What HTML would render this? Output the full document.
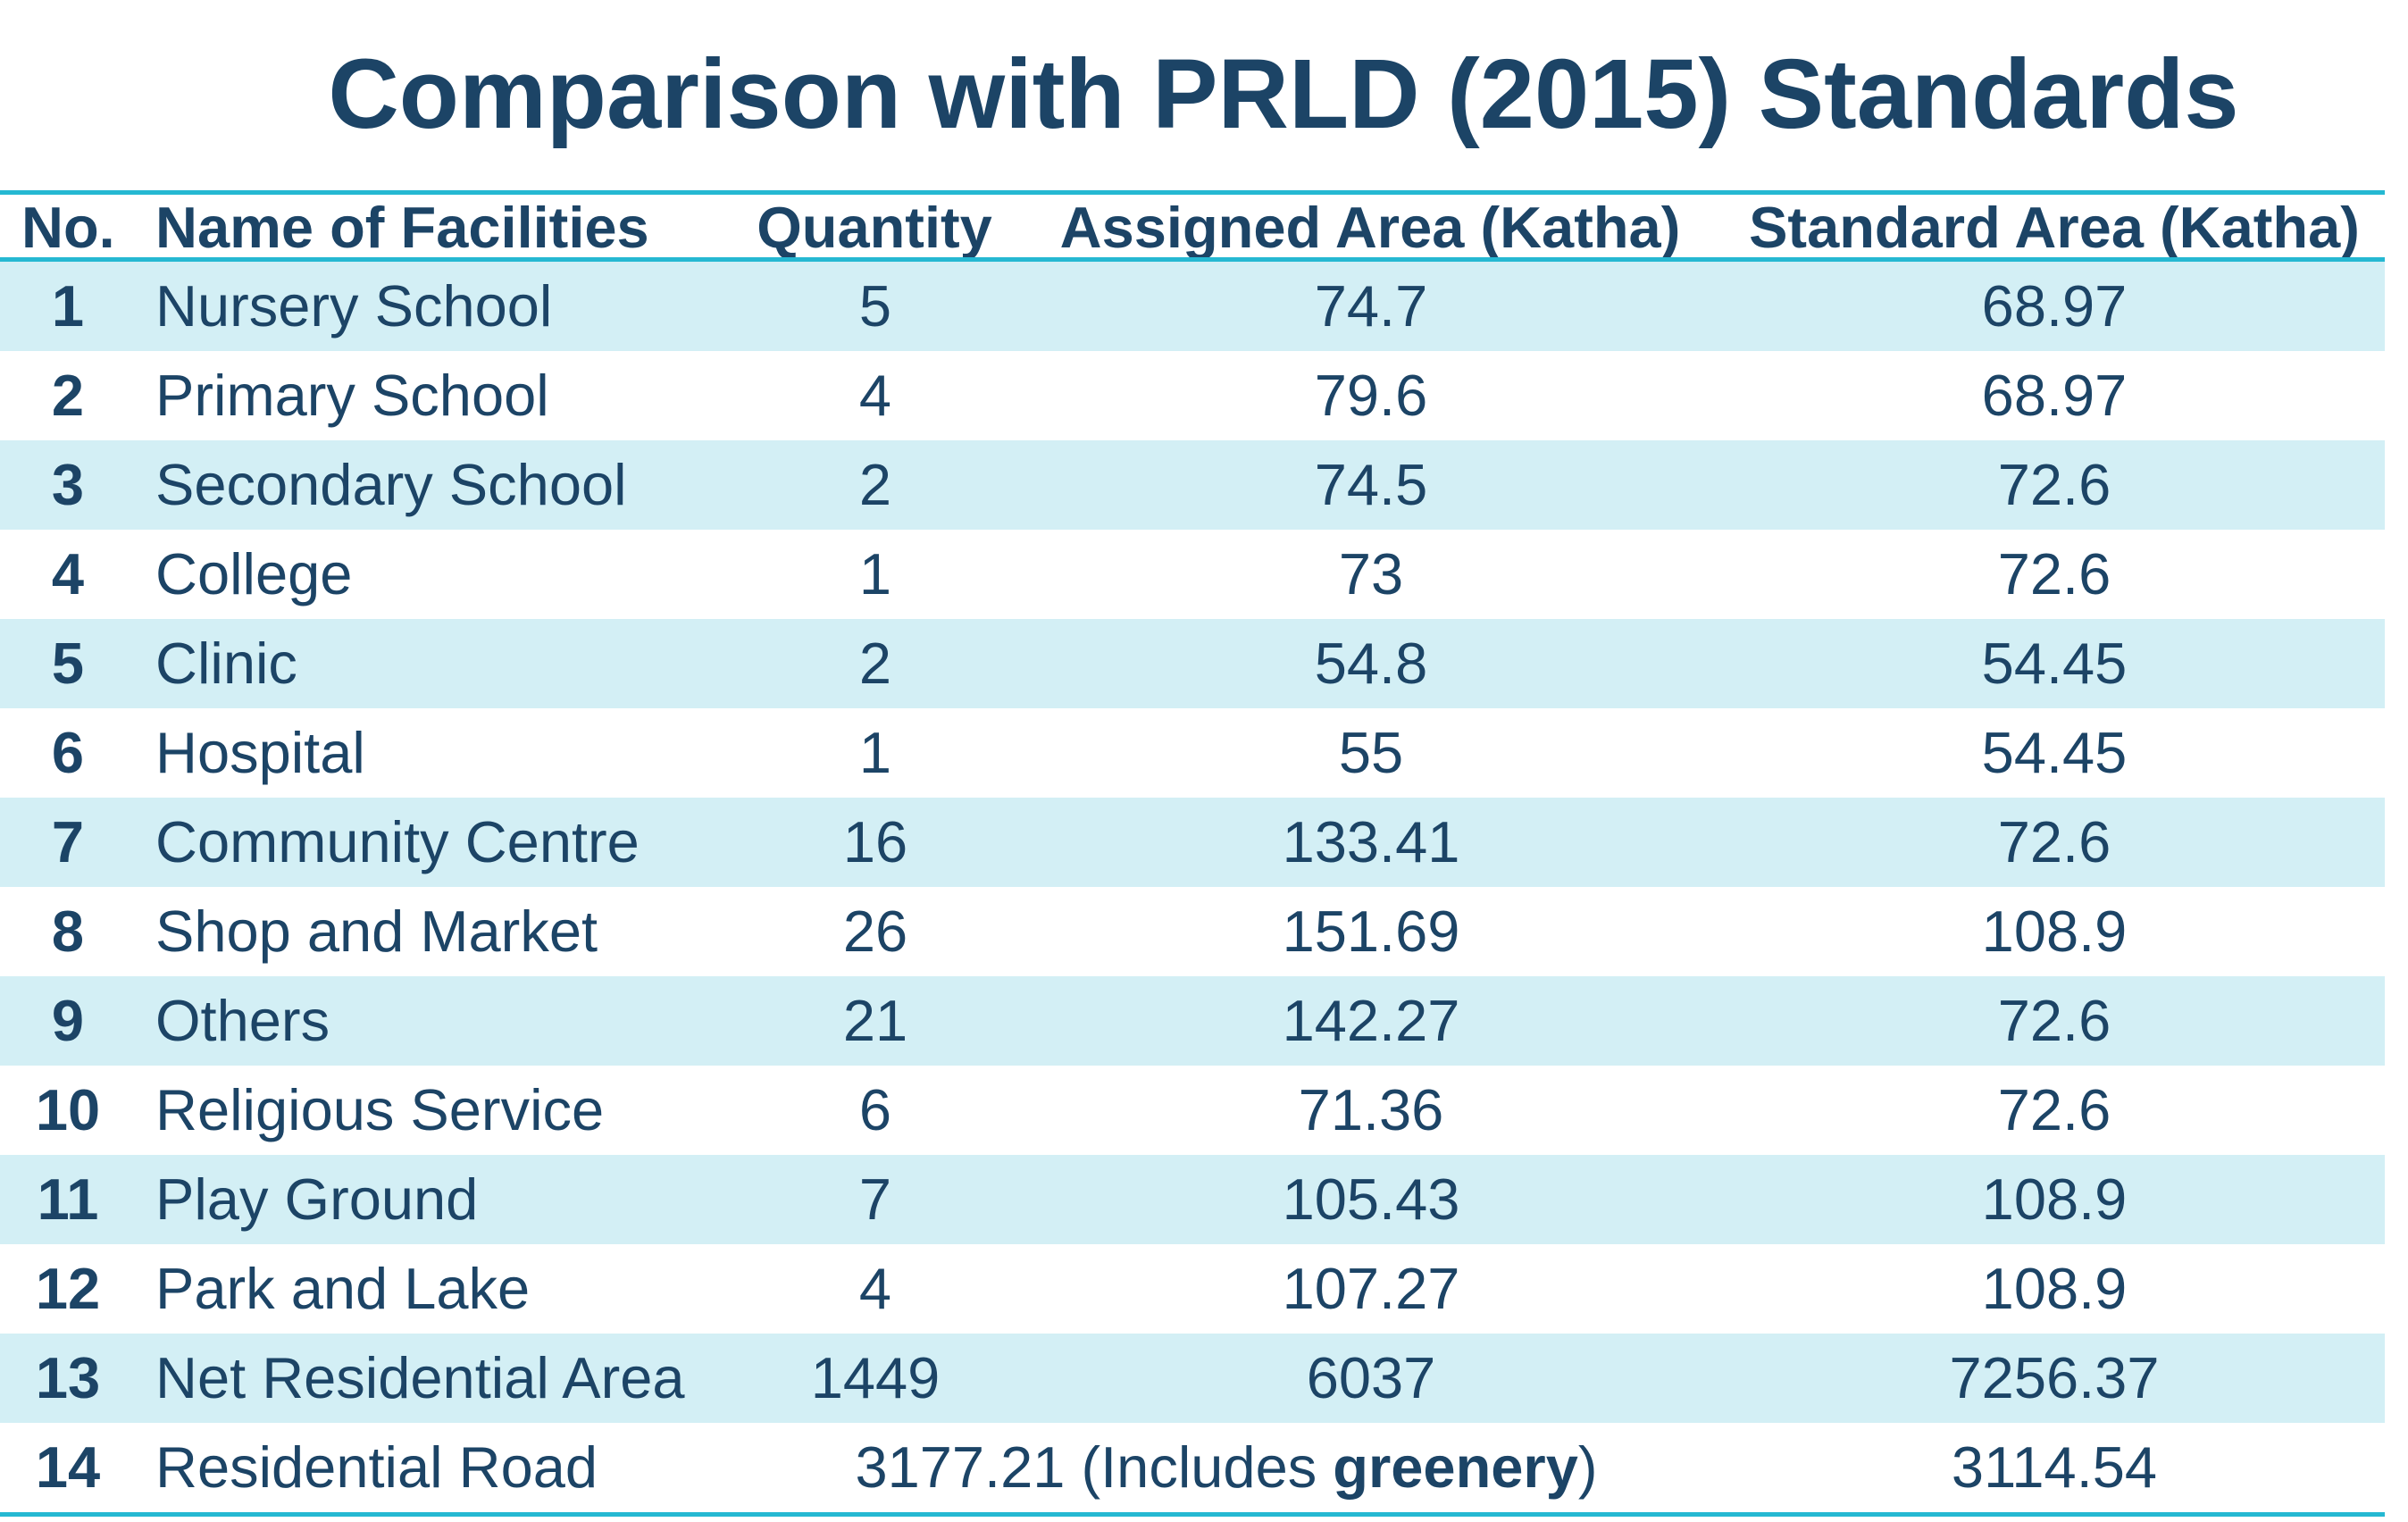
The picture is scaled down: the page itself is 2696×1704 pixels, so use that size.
<!DOCTYPE html>
<html><head><meta charset="utf-8">
<style>
body{margin:0;width:2696px;height:1704px;background:#fff;position:relative;overflow:hidden;font-family:"Liberation Sans",Arial,sans-serif;color:#1c4466}
.title{position:absolute;left:0;width:2874px;top:36px;text-align:center;font-weight:bold;font-size:110px;line-height:140px;white-space:nowrap}
.rule{position:absolute;left:0;width:2670px;height:5px;background:#25b8d2}
.row{position:absolute;left:0;width:2670px;height:100px}
.band{background:#d3eff5}
.c{position:absolute;top:0;line-height:100px;font-size:65px;white-space:nowrap}
.ctr{transform:translateX(-50%)}
.hdr .c{font-weight:bold;font-size:65px;line-height:74px}
.no{font-weight:bold}
</style></head><body>
<div class="title">Comparison with PRLD (2015) Standards</div>
<div class="rule" style="top:213px"></div>
<div class="row hdr" style="top:218px;height:74px">
 <span class="c" style="left:24px">No.</span>
 <span class="c" style="left:174px">Name of Facilities</span>
 <span class="c ctr" style="left:979px">Quantity</span>
 <span class="c ctr" style="left:1534px">Assigned Area (Katha)</span>
 <span class="c ctr" style="left:2300px">Standard Area (Katha)</span>
</div>
<div class="rule" style="top:288px"></div>
<div id="rows"></div>
<div class="rule" style="top:1693px"></div>
<script>
const names=["Nursery School","Primary School","Secondary School","College","Clinic","Hospital","Community Centre","Shop and Market","Others","Religious Service","Play Ground","Park and Lake","Net Residential Area","Residential Road"];
const quantities=["5","4","2","1","2","1","16","26","21","6","7","4","1449",""];
const assigned=["74.7","79.6","74.5","73","54.8","55","133.41","151.69","142.27","71.36","105.43","107.27","6037",""];
const standard=["68.97","68.97","72.6","72.6","54.45","54.45","72.6","108.9","72.6","72.6","108.9","108.9","7256.37","3114.54"];
const host=document.getElementById('rows');
names.forEach((n,i)=>{
 const r=document.createElement('div');
 r.className='row'+(i%2===0?' band':'');
 r.style.top=(293+i*100)+'px';
 
 
 let h='<span class="c ctr no" style="left:76px">'+(i+1)+'</span>'+
 '<span class="c" style="left:174px">'+n+'</span>';
 if(i===13){
  h+='<span class="c ctr" style="left:1373px">3177.21 (Includes <b>greenery</b>)</span>';
 }else{
  h+='<span class="c ctr" style="left:980px">'+quantities[i]+'</span>'+
  '<span class="c ctr" style="left:1535px">'+assigned[i]+'</span>';
 }
 h+='<span class="c ctr" style="left:2300px">'+standard[i]+'</span>';
 r.innerHTML=h;
 host.appendChild(r);
});
</script>
</body></html>
